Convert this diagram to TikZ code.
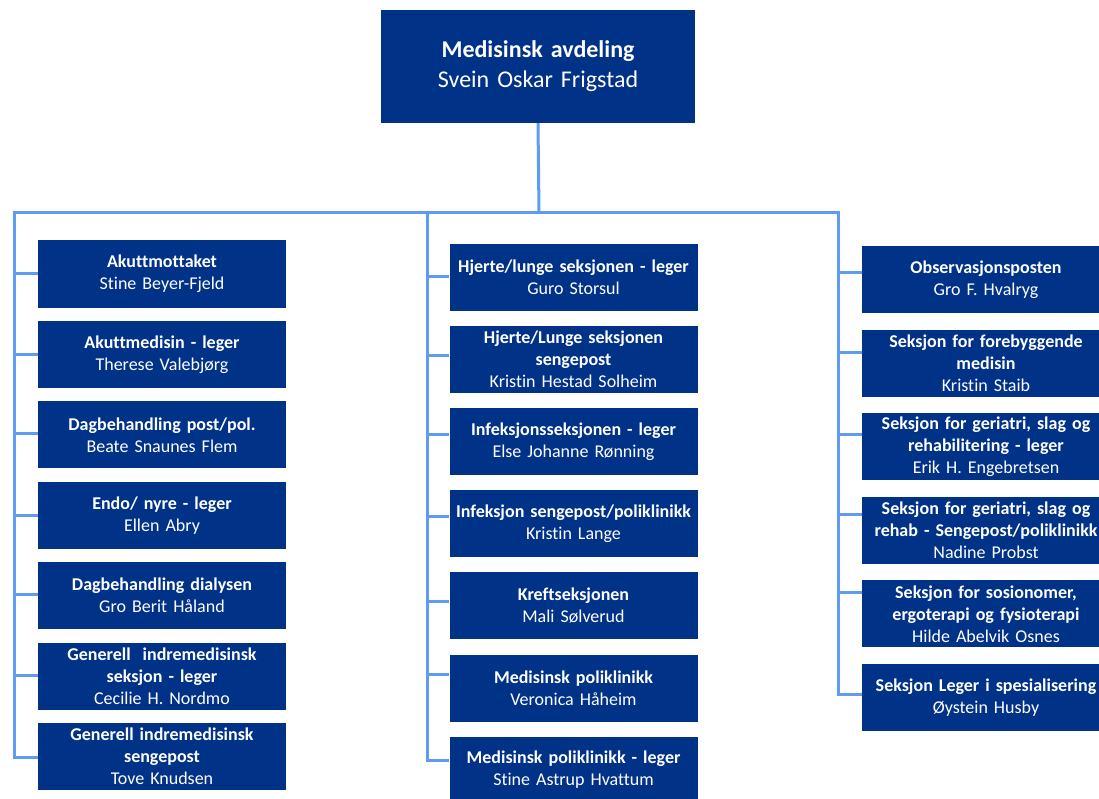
\documentclass[tikz,border=0pt]{standalone}
\usepackage{fontspec}
\setmainfont{Carlito}[Ligatures=NoCommon]
\usetikzlibrary{positioning}
\definecolor{boxblue}{RGB}{0,50,135}
\definecolor{lineblue}{RGB}{95,155,240}

\begin{document}
\begin{tikzpicture}[
            x=1pt, y=-1pt,
            unit/.style={rectangle, fill=boxblue, text=white, minimum width=248pt, minimum height=67pt, text width=240pt, align=center, inner sep=0pt, font=\fontsize{18}{22}\selectfont},
            head/.style={unit, minimum width=314pt, minimum height=113pt, text width=300pt, font=\fontsize{24}{30}\selectfont},
            link/.style={draw=lineblue, line width=3pt}
        ]
            \useasboundingbox (0,0) rectangle (1099,799);
            \clip (0,0) rectangle (1099,799);

            \node[head] (top) at (538,66.5) {\textbf{Medisinsk avdeling}\\Svein Oskar Frigstad};

            % left column
            \node[unit] (l1) at (162,274) {\textbf{Akuttmottaket}\\Stine Beyer-Fjeld};
            \node[unit, below=13pt of l1] (l2) {\textbf{Akuttmedisin - leger}\\Therese Valebjørg};
            \node[unit, below=13pt of l2] (l3) {\textbf{Dagbehandling post/pol.}\\Beate Snaunes Flem};
            \node[unit, below=13pt of l3] (l4) {\textbf{Endo/ nyre - leger}\\Ellen Abry};
            \node[unit, below=13pt of l4] (l5) {\textbf{Dagbehandling dialysen}\\Gro Berit Håland};
            \node[unit, below=13pt of l5] (l6) {\textbf{Generell~ indremedisinsk}\\\textbf{seksjon - leger}\\Cecilie H. Nordmo};
            \node[unit, below=13pt of l6] (l7) {\textbf{Generell indremedisinsk}\\\textbf{sengepost}\\Tove Knudsen};

            % middle column
            \node[unit] (m1) at (573.5,277.5) {\textbf{Hjerte/lunge seksjonen - leger}\\Guro Storsul\\[14pt]};
            \node[unit, below=14.7pt of m1] (m2) {\textbf{Hjerte/Lunge seksjonen}\\\textbf{sengepost}\\Kristin Hestad Solheim};
            \node[unit, below=14.7pt of m2] (m3) {\textbf{Infeksjonsseksjonen - leger}\\Else Johanne Rønning};
            \node[unit, below=14.7pt of m3] (m4) {\textbf{Infeksjon sengepost/poliklinikk}\\Kristin Lange};
            \node[unit, below=14.7pt of m4] (m5) {\textbf{Kreftseksjonen}\\Mali Sølverud};
            \node[unit, below=14.7pt of m5] (m6) {\textbf{Medisinsk poliklinikk}\\Veronica Håheim\\[14pt]};
            \node[unit, below=14.7pt of m6] (m7) {\textbf{Medisinsk poliklinikk - leger}\\Stine Astrup Hvattum};

            % right column
            \node[unit] (r1) at (986,279.5) {\textbf{Observasjonsposten}\\Gro F. Hvalryg};
            \node[unit, below=16.2pt of r1] (r2) {\textbf{Seksjon for forebyggende}\\\textbf{medisin}\\Kristin Staib};
            \node[unit, below=16.2pt of r2] (r3) {\textbf{Seksjon for geriatri, slag og}\\\textbf{rehabilitering - leger}\\Erik H. Engebretsen};
            \node[unit, below=16.2pt of r3] (r4) {\textbf{Seksjon for geriatri, slag og}\\\textbf{rehab - Sengepost/poliklinikk}\\Nadine Probst};
            \node[unit, below=16.2pt of r4] (r5) {\textbf{Seksjon for sosionomer,}\\\textbf{ergoterapi og fysioterapi}\\Hilde Abelvik Osnes};
            \node[unit, below=16.2pt of r5] (r6) {\textbf{Seksjon Leger i spesialisering}\\Øystein Husby};

            % connectors
            \coordinate (hub) at (539,213);
            \coordinate (lspine) at (14,213);
            \coordinate (mspine) at (427,213);
            \coordinate (rspine) at (838,213);
            \coordinate (lend) at (14,755);
            \coordinate (mend) at (427,756);
            \coordinate (rend) at (838,693);

            \draw[link] (top.south) -- (hub);
            \draw[link] (lend) -- (lspine) -- (rspine) -- (rend);
            \draw[link] (mspine) -- (mend);

            \foreach \n/\d in {l1/0, l2/0, l3/1, l4/0, l5/1, l6/1, l7/-1.5}
                \draw[link] ([yshift=\d pt]\n.west) -| (lspine);
            \foreach \n/\d in {m1/0.5, m2/4.5, m3/7.5, m4/7, m5/4.5, m6/13.5, m7/9.5}
                \draw[link] ([yshift=\d pt]\n.west) -| (mspine);
            \foreach \n/\d in {r1/6.5, r2/11, r3/12, r4/16, r5/21, r6/3}
                \draw[link] ([yshift=\d pt]\n.west) -| (rspine);
        \end{tikzpicture}
\end{document}
